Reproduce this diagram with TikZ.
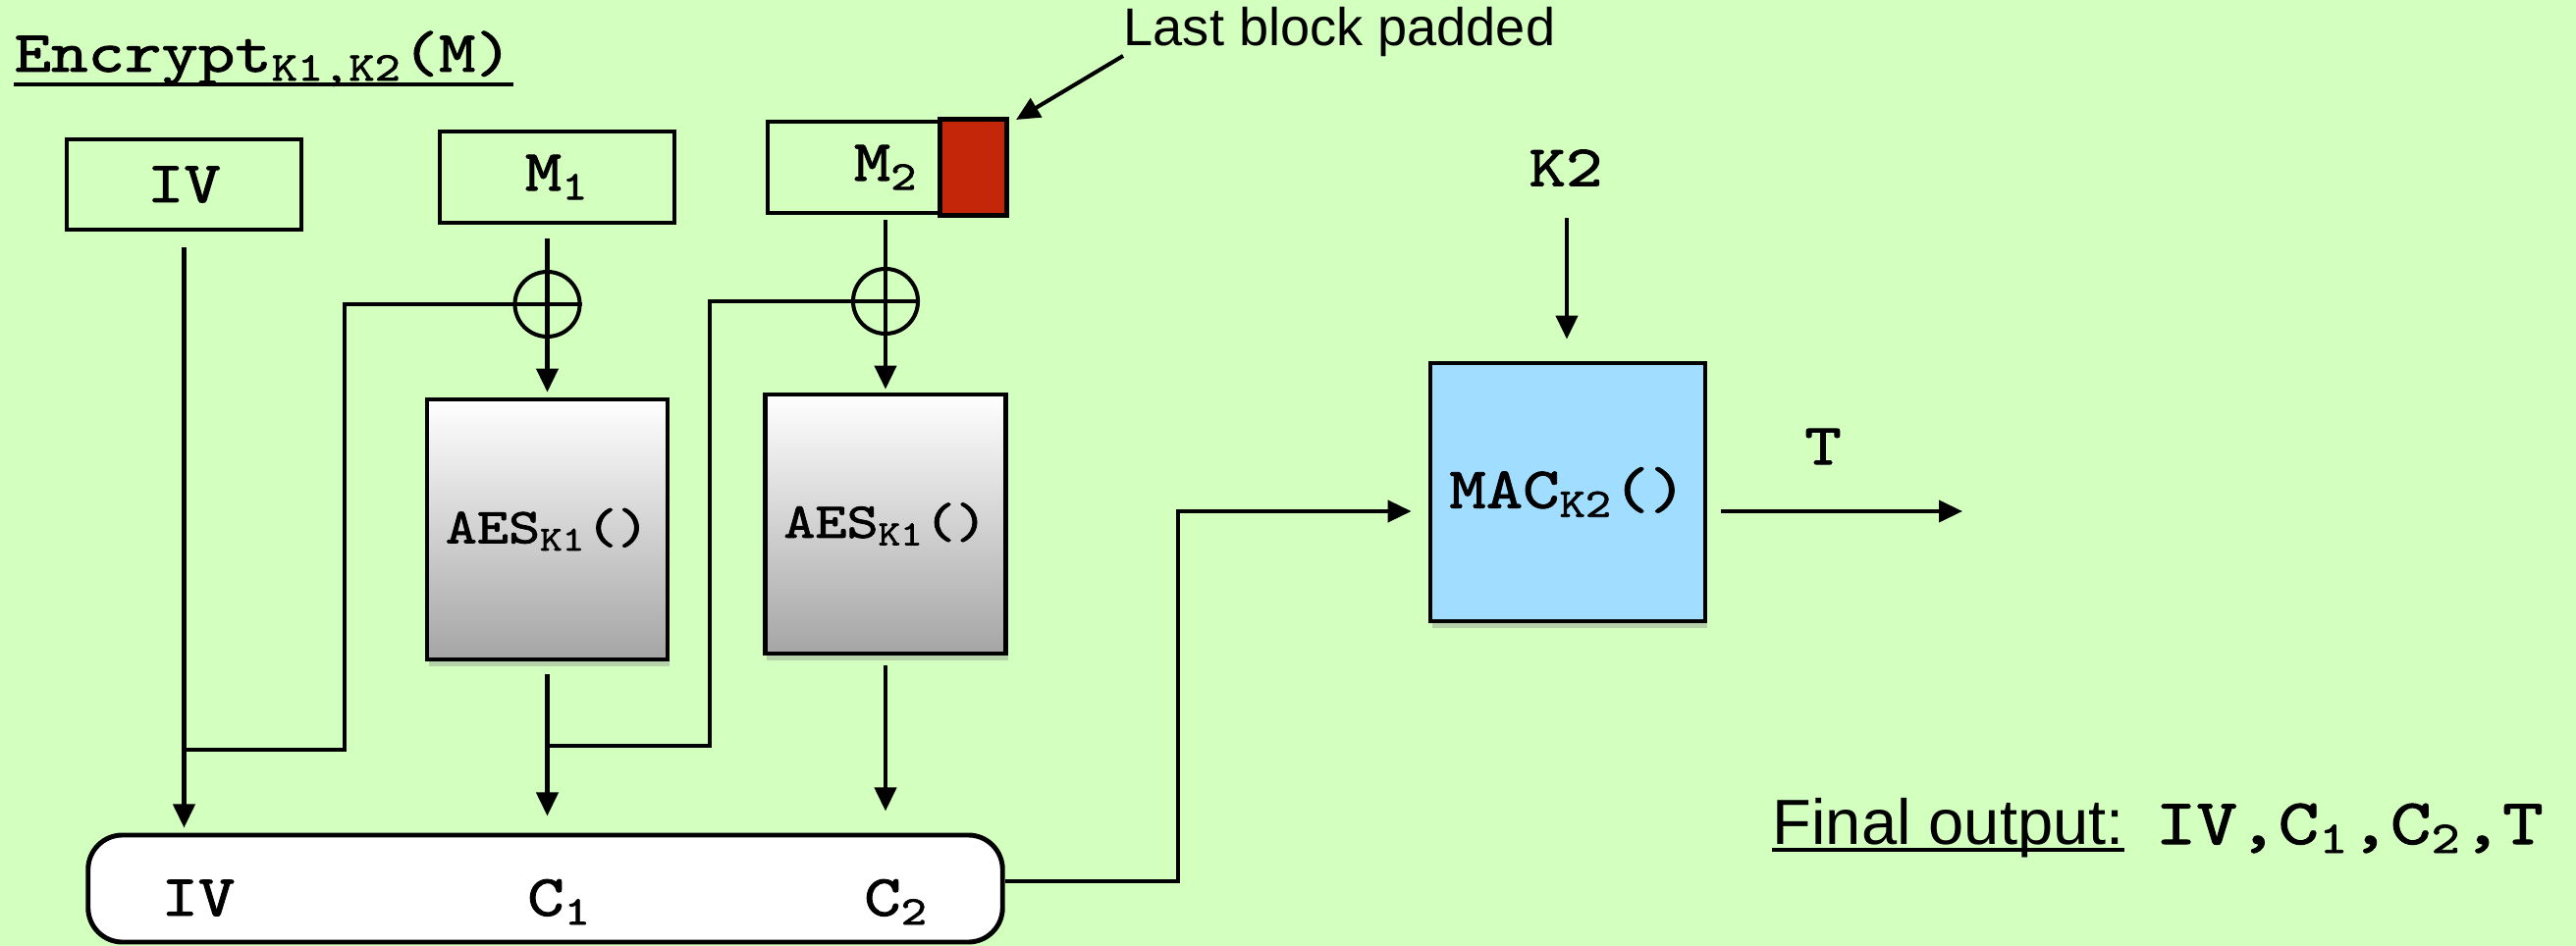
\documentclass[tikz,border=0pt]{standalone}
\usepackage{fontspec}
\setmainfont{Liberation Sans}
\setmonofont{lmmono10-regular}[Extension=.otf,FakeStretch=1.2,FakeBold=1.6]
\usetikzlibrary{arrows.meta,shadows,calc}
\definecolor{bg}{RGB}{211,255,191}
\definecolor{macblue}{RGB}{160,221,255}
\definecolor{padred}{RGB}{196,38,10}
\definecolor{aesgray}{RGB}{165,165,165}
\begin{document}
\begin{tikzpicture}[x=0.01cm,y=-0.01cm,
  line/.style={line width=1.15pt},
  arr/.style={line width=1.15pt,-{Triangle[length=0.24cm,width=0.22cm]}},
  blk/.style={draw,line width=1.3pt,inner sep=0pt},
  mainfont/.style={font=\fontsize{16.9pt}{19pt}\ttfamily},
  aesfont/.style={font=\fontsize{14.5pt}{17pt}\ttfamily},
  bigmono/.style={font=\fontsize{18.8pt}{21pt}\ttfamily},
  sanssmall/.style={font=\fontsize{15.4pt}{17pt}\rmfamily},
  sansbig/.style={font=\fontsize{18.5pt}{20pt}\rmfamily},
  shad/.style={drop shadow={shadow xshift=0.02cm,shadow yshift=-0.07cm,opacity=0.35}}
]
\fill[bg] (0,0) rectangle (2624,964);
\useasboundingbox (0,0) rectangle (2624,964);

% title
\node[mainfont,anchor=base west,inner sep=0pt] (title) at (14,73) {Encrypt\textsubscript{K1,K2}(M)};
\draw[line width=1.1pt] ($(title.base west)+(0,13)$) -- ($(title.base east)+(0,13)$);

% input blocks
\node[blk,mainfont,minimum width=2.39cm,minimum height=0.92cm] (iv) at (187.5,188) {IV};
\node[blk,mainfont,minimum width=2.39cm,minimum height=0.93cm] (m1) at (567.5,180.5) {M\textsubscript{1}};
\node[blk,mainfont,minimum width=2.41cm,minimum height=0.93cm] (m2) at (902.5,170.5) {M\textsubscript{2}};
\coordinate (padnw) at ($(m2.north east)+(-68,0)$);
\draw[line width=1.3pt,fill=padred] (padnw) rectangle (m2.south east);

% padding note
\node[sanssmall,anchor=base west,inner sep=0pt] (lbp) at (1144,47) {Last block padded};
\coordinate (padtip) at (1035,122);
\draw[arr] ($(lbp.south west)+(0,-2)$) -- (padtip);

% AES blocks
\node[blk,aesfont,shad,top color=white,bottom color=aesgray,minimum width=2.45cm,minimum height=2.65cm] (aes1) at (557.5,539.5) {AES\textsubscript{K1}()};
\node[blk,aesfont,shad,top color=white,bottom color=aesgray,minimum width=2.45cm,minimum height=2.64cm] (aes2) at (902,534) {AES\textsubscript{K1}()};

% xor circles
\node[draw,circle,line width=1.15pt,minimum size=0.66cm,inner sep=0pt] (x1) at (557.5,310) {};
\node[draw,circle,line width=1.15pt,minimum size=0.66cm,inner sep=0pt] (x2) at (902,307) {};

% output box
\node[draw,fill=white,line width=1.4pt,rounded corners=0.35cm,minimum width=9.31cm,minimum height=1.09cm] (out) at (555.5,905.5) {};
\node[mainfont,anchor=base] (oiv) at (202,933) {IV};
\node[mainfont,anchor=base] (oc1) at (570,933) {C\textsubscript{1}};
\node[mainfont,anchor=base] (oc2) at (913,933) {C\textsubscript{2}};

% MAC
\node[blk,mainfont,shad,fill=macblue,minimum width=2.80cm,minimum height=2.63cm] (mac) at (1597,501.5) {MAC\textsubscript{K2}()};
\node[mainfont] (k2) at (1595,171) {K2};
\node[mainfont] (t) at (1857,455) {T};

% connectors
\draw[arr] ($(iv.south)+(0,16)$) -- ($(iv.south |- out.north)+(0,-5)$);
\draw[arr] ($(x1 |- m1.south)+(0,14)$) -- ($(x1 |- aes1.north)+(0,-5)$);
\draw[arr] ($(x2 |- m2.south)+(0,5)$) -- ($(x2 |- aes2.north)+(0,-3)$);

\coordinate (fb1a) at (351,310);
\coordinate (fb1b) at (351,764);
\coordinate (fb1c) at (187.5,764);
\draw[line] (x1.east) -- (fb1a) -- (fb1b) -- (fb1c);

\coordinate (fb2a) at (723,307);
\coordinate (fb2b) at (723,760);
\coordinate (fb2c) at (557.5,760);
\draw[line] (x2.east) -- (fb2a) -- (fb2b) -- (fb2c);

\draw[arr] ($(aes1.south)+(0,13)$) -- ($(aes1.south |- out.north)+(0,-17)$);
\draw[arr] ($(aes2.south)+(0,10)$) -- ($(aes2.south |- out.north)+(0,-22)$);

\coordinate (b1) at (1200,898);
\coordinate (b2) at (1200,521);
\draw[arr] ($(out.east)+(0,-7.5)$) -- (b1) -- (b2) -- ($(b2 -| mac.west)+(-17,0)$);

\draw[arr] ($(k2.south)+(1,20)$) -- ($(mac.north)+(-1,-22)$);
\coordinate (tend) at (1999,521);
\draw[arr] ($(b2 -| mac.east)+(14,0)$) -- (tend);

% final output
\node[sansbig,anchor=base west,inner sep=0pt] (fo) at (1805,860) {Final output:};
\draw[line width=1.1pt] ($(fo.base west)+(0,6)$) -- ($(fo.base east)+(0,6)$);
\node[bigmono,anchor=base west,inner sep=0pt] (fov) at (2195,860) {IV,C\textsubscript{1},C\textsubscript{2},T};
\end{tikzpicture}
\end{document}
